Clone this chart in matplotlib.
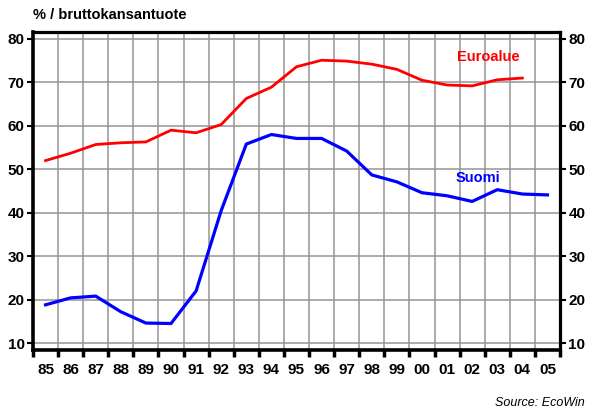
import matplotlib
matplotlib.use("Agg")
import matplotlib.pyplot as plt
import numpy as np

plt.rcParams['font.family'] = ['Liberation Sans', 'DejaVu Sans']

years = list(range(1985, 2006))
year_labels = ["85", "86", "87", "88", "89", "90", "91", "92", "93", "94", "95",
               "96", "97", "98", "99", "00", "01", "02", "03", "04", "05"]

# Euroalue, 1985-2004
euroalue = [52.0, 53.7, 55.7, 56.1, 56.3, 59.0, 58.4, 60.3, 66.3, 68.9,
            73.6, 75.1, 74.9, 74.2, 73.0, 70.5, 69.4, 69.2, 70.6, 71.0]
# Suomi, 1985-2005
suomi = [18.8, 20.4, 20.8, 17.2, 14.6, 14.5, 22.0, 40.5, 55.8, 58.0,
         57.1, 57.1, 54.2, 48.7, 47.1, 44.6, 43.9, 42.6, 45.3, 44.3, 44.1]

yticks = [10, 20, 30, 40, 50, 60, 70, 80]

fig = plt.figure(figsize=(5.95, 4.16), dpi=100)
ax = fig.add_axes([33 / 595, 1 - 350 / 416, 527 / 595, 318 / 416])

x_e = np.array(years[:len(euroalue)]) + 0.5
x_s = np.array(years[:len(suomi)]) + 0.5
ax.plot(x_e, euroalue, color="#ff0000", lw=2.0, zorder=3)
ax.plot(x_s, suomi, color="#0000ff", lw=2.3, zorder=3)

ax.set_xlim(1985, 2006)
ax.set_ylim(8.4, 81.6)

# year boundaries: gridlines + ticks; labels centred in each year
ax.set_xticks(range(1985, 2007))
ax.set_xticklabels([])
ax.set_xticks(np.array(years) + 0.5, minor=True)
ax.set_xticklabels(year_labels, minor=True, fontsize=11, fontweight="bold")
ax.tick_params(axis="x", which="major", direction="out", length=5, width=2.5)
ax.tick_params(axis="x", which="minor", length=0, pad=9)

ax.set_yticks(yticks)
ax.set_yticklabels([str(v) for v in yticks], fontsize=11, fontweight="bold")
ax.tick_params(axis="y", direction="out", length=4, width=1.5, left=True, right=True,
               labelleft=True, labelright=True, pad=2)

ax.grid(True, which="major", color="#959595", lw=1.1, zorder=0)
for s in ax.spines.values():
    s.set_linewidth(2.3)
    s.set_color("black")
ax.spines["left"].set_linewidth(2.6)
ax.spines["bottom"].set_linewidth(2.6)

ax.text(2003.13, 75.9, "Euroalue", color="#ff0000", fontsize=10.5, fontweight="bold",
        ha="center", va="center")
ax.text(2002.73, 47.9, "Suomi", color="#0000ff", fontsize=10.5, fontweight="bold",
        ha="center", va="center")

fig.text(33 / 595, 1 - 15 / 416, "% / bruttokansantuote", fontsize=10.5,
         fontweight="bold", ha="left", va="center")
fig.text(585 / 595, 1 - 403 / 416, "Source: EcoWin", fontsize=9, style="italic",
         ha="right", va="center")

fig.savefig("out.png", dpi=100)
